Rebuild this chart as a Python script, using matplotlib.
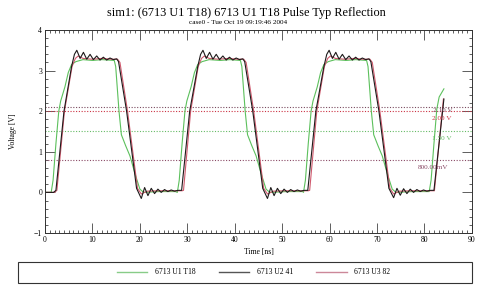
import matplotlib
matplotlib.use("Agg")
import matplotlib.pyplot as plt
from matplotlib.patches import Rectangle
from matplotlib.ticker import MultipleLocator

plt.rcParams['font.family'] = ['Liberation Serif', 'DejaVu Serif']

# 6713 U1 T18 (green)
t_u1 = [0, 1.3, 1.7, 2.3, 2.9, 3.3, 4.2, 4.9, 5.6, 6.5, 8.0, 10.0, 12.0, 14.6,
        14.9, 15.6, 16.1, 17.0, 17.9, 19.0, 20.0, 20.8, 24.0, 27.5,
        27.9, 28.3, 28.9, 29.5, 29.9, 30.8, 31.5, 32.2, 33.1, 34.6, 37.0, 39.0, 41.2,
        41.5, 42.2, 42.7, 43.6, 44.5, 45.6, 46.6, 47.4, 51.0, 54.3,
        54.5, 54.9, 55.5, 56.1, 56.5, 57.4, 58.1, 58.8, 59.7, 61.2, 63.5, 65.5, 67.8,
        68.1, 68.8, 69.3, 70.2, 71.1, 72.2, 73.2, 74.0, 77.5, 81.0,
        81.4, 82.0, 82.6, 83.1, 84.1]
v_u1 = [0, 0, 0.3, 1.2, 2.0, 2.25, 2.6, 2.95, 3.15, 3.22, 3.27, 3.25, 3.27, 3.25,
        3.1, 2.0, 1.42, 1.15, 0.9, 0.45, 0.08, 0.0, 0.02, 0.02,
        0.0, 0.3, 1.2, 2.0, 2.25, 2.6, 2.95, 3.15, 3.22, 3.27, 3.25, 3.27, 3.25,
        3.1, 2.0, 1.42, 1.15, 0.9, 0.45, 0.08, 0.0, 0.02, 0.02,
        0.0, 0.3, 1.2, 2.0, 2.25, 2.6, 2.95, 3.15, 3.22, 3.27, 3.25, 3.27, 3.25,
        3.1, 2.0, 1.42, 1.15, 0.9, 0.45, 0.08, 0.0, 0.02, 0.02,
        0.3, 1.2, 2.05, 2.35, 2.55]

# 6713 U2 41 (black, ringing)
t_u2 = [0, 1.8, 2.3, 4.0, 5.6, 6.2, 6.7, 7.4, 8.1, 8.8, 9.5, 10.2, 10.9, 11.6,
        12.3, 13.0, 13.7, 14.4, 15.1, 15.5, 17.2, 19.3, 20.3, 21.0, 21.7, 22.4,
        23.1, 23.8, 24.5, 25.2, 25.9, 26.6, 27.3, 28.0, 28.8,
        30.5, 32.2, 32.8, 33.3, 34.0, 34.7, 35.4, 36.1, 36.8, 37.5, 38.2,
        38.9, 39.6, 40.3, 41.0, 41.7, 42.1, 43.8, 45.9, 46.9, 47.6, 48.3, 49.0,
        49.7, 50.4, 51.1, 51.8, 52.5, 53.2, 53.9, 54.6, 55.4,
        57.1, 58.8, 59.4, 59.9, 60.6, 61.3, 62.0, 62.7, 63.4, 64.1, 64.8,
        65.5, 66.2, 66.9, 67.6, 68.3, 68.7, 70.4, 72.5, 73.5, 74.2, 74.9, 75.6,
        76.3, 77.0, 77.7, 78.4, 79.1, 79.8, 80.5, 81.2, 82.0, 84.1]
v_u2 = [0, 0, 0.05, 2.0, 3.1, 3.4, 3.5, 3.3, 3.45, 3.28, 3.4, 3.27, 3.36, 3.26,
        3.33, 3.26, 3.31, 3.27, 3.29, 3.22, 2.0, 0.1, -0.15, 0.12, -0.08, 0.1,
        -0.03, 0.08, 0.0, 0.07, 0.02, 0.06, 0.03, 0.05, 0.05,
        2.0, 3.1, 3.4, 3.5, 3.3, 3.45, 3.28, 3.4, 3.27, 3.36, 3.26,
        3.33, 3.26, 3.31, 3.27, 3.29, 3.22, 2.0, 0.1, -0.15, 0.12, -0.08, 0.1,
        -0.03, 0.08, 0.0, 0.07, 0.02, 0.06, 0.03, 0.05, 0.05,
        2.0, 3.1, 3.4, 3.5, 3.3, 3.45, 3.28, 3.4, 3.27, 3.36, 3.26,
        3.33, 3.26, 3.31, 3.27, 3.29, 3.22, 2.0, 0.1, -0.13, 0.1, -0.07, 0.09,
        -0.03, 0.08, 0.0, 0.07, 0.02, 0.06, 0.03, 0.05, 0.05, 2.3]

# 6713 U3 82 (red)
t_u3 = [0, 2.0, 2.5, 4.1, 5.7, 6.4, 7.0, 8.0, 10.0, 12.0, 14.0, 15.3, 15.8,
        17.4, 19.5, 20.3, 21.5, 24.0, 27.0, 28.9,
        29.2, 30.7, 32.3, 33.0, 33.6, 34.6, 36.6, 38.6, 40.6, 41.9, 42.4,
        44.0, 46.1, 46.9, 48.1, 50.6, 53.6, 55.5,
        55.8, 57.3, 58.9, 59.6, 60.2, 61.2, 63.2, 65.2, 67.2, 68.5, 69.0,
        70.6, 72.7, 73.5, 74.7, 77.2, 80.2, 82.1, 84.0]
v_u3 = [0, 0, 0.05, 2.0, 3.1, 3.3, 3.36, 3.3, 3.28, 3.3, 3.28, 3.28, 3.2,
        2.0, 0.1, -0.04, 0.03, 0.04, 0.04, 0.04,
        0.05, 2.0, 3.1, 3.3, 3.36, 3.3, 3.28, 3.3, 3.28, 3.28, 3.2,
        2.0, 0.1, -0.04, 0.03, 0.04, 0.04, 0.04,
        0.05, 2.0, 3.1, 3.3, 3.36, 3.3, 3.28, 3.3, 3.28, 3.28, 3.2,
        2.0, 0.1, -0.04, 0.03, 0.04, 0.04, 0.04, 2.3]

# threshold markers
thr_values = [2.10, 2.00, 1.50, 0.80]
thr_labels = ['2.10 V', '2.00 V', '1.50 V', '800.00mV']
thr_colors = ['#7a4a5e', '#cc3344', '#66bb66', '#8a4a66']
thr_label_x = [81.8, 81.6, 81.6, 78.6]
thr_label_y = [2.02, 1.83, 1.33, 0.61]

series_names = ['6713 U1 T18', '6713 U2 41', '6713 U3 82']
series_colors = ['#5cc05c', '#1e1a1a', '#d05a6e']

fig = plt.figure(figsize=(4.83, 2.90), dpi=100)
ax = fig.add_axes([0.0932, 0.1966, 0.8838, 0.70])

for yv, c in zip(thr_values, thr_colors):
    ax.axhline(yv, color=c, lw=0.8, ls=(0, (1, 1.5)))

ax.plot(t_u1, v_u1, color=series_colors[0], lw=0.8, label=series_names[0])
ax.plot(t_u3, v_u3, color=series_colors[2], lw=0.8, label=series_names[2])
ax.plot(t_u2, v_u2, color=series_colors[1], lw=0.8, label=series_names[1])

for lx, ly, s, c in zip(thr_label_x, thr_label_y, thr_labels, thr_colors):
    ax.text(lx, ly, s, color=c, fontsize=5.2, va='center', ha='left')

ax.set_xlim(0, 90)
ax.set_ylim(-1, 4)
ax.xaxis.set_major_locator(MultipleLocator(10))
ax.xaxis.set_minor_locator(MultipleLocator(1))
ax.yaxis.set_major_locator(MultipleLocator(1))
ax.yaxis.set_minor_locator(MultipleLocator(0.2))
ax.tick_params(which='both', direction='in', top=True, right=True,
               labelsize=5.5, pad=2, width=0.6, color='#444444')
ax.tick_params(which='major', length=7)
ax.tick_params(which='minor', length=2.5)
for sp in ax.spines.values():
    sp.set_linewidth(0.7)
    sp.set_color('#333333')

ax.set_xlabel('Time [ns]', fontsize=5.5, labelpad=3)
ax.set_ylabel('Voltage [V]', fontsize=5.5, labelpad=12)

fig.text(0.511, 0.955, 'sim1: (6713 U1 T18) 6713 U1 T18 Pulse Typ Reflection',
         fontsize=8.8, ha='center', va='center')
fig.text(0.493, 0.924, 'case0 - Tue Oct 19 09:19:46 2004',
         fontsize=5.2, ha='center', va='center')

# legend box below the plot
fig.patches.append(Rectangle((18 / 483, 1 - 283 / 290), 454 / 483, 21 / 290,
                             transform=fig.transFigure, fill=False,
                             edgecolor='#333333', lw=0.8))
handles, labels = ax.get_legend_handles_labels()
order = [labels.index(n) for n in series_names]
leg = fig.legend([handles[i] for i in order], [labels[i] for i in order],
                 loc='center', bbox_to_anchor=(0.525, 1 - 272.5 / 290),
                 ncol=3, frameon=False, fontsize=5.5, handlelength=4,
                 handletextpad=1.0, columnspacing=3.0)
for h, c in zip(leg.get_lines(), ['#88cc88', '#555555', '#cc8899']):
    h.set_linewidth(1.0)
    h.set_color(c)

fig.savefig('out.png', dpi=100)
